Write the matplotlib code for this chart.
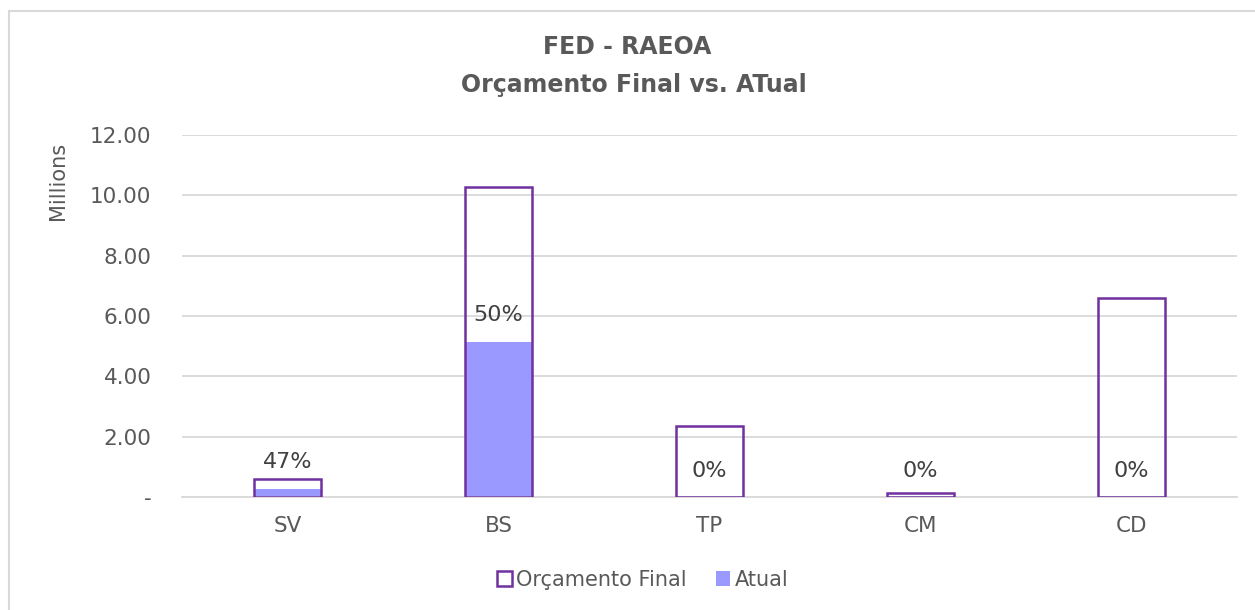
import matplotlib

matplotlib.use("Agg")
import matplotlib.pyplot as plt
from matplotlib.patches import Patch, Rectangle
from matplotlib.ticker import FuncFormatter

# values in millions
categories = ["SV", "BS", "TP", "CM", "CD"]
orcamento_final = [0.60, 10.27, 2.37, 0.15, 6.60]
atual = [0.28, 5.15, 0.0, 0.0, 0.0]
y_ticks = [0, 2, 4, 6, 8, 10, 12]

OUTLINE = "#7030A0"
FILL = "#9999FF"
TEXT = "#595959"
GRID = "#D9D9D9"

plt.rcParams["font.family"] = ["DejaVu Sans"]

fig = plt.figure(figsize=(12.55, 6.10), dpi=100)
ax = fig.add_axes([0.145, 0.1852, 0.8407, 0.5935])

x = list(range(len(categories)))
width = 0.32

ax.bar(x, atual, width=width, color=FILL, edgecolor="none", zorder=2)
ax.bar(x, orcamento_final, width=width, facecolor="none", edgecolor=OUTLINE,
       linewidth=1.8, zorder=3)

for xi, fin, act in zip(x, orcamento_final, atual):
    pct = act / fin if fin else 0
    ax.annotate(f"{pct:.0%}", (xi, act), xytext=(0, 19), textcoords="offset points",
                ha="center", va="center", fontsize=16, color="#404040", zorder=4)

ax.set_xlim(-0.5, len(categories) - 0.5)
ax.set_ylim(0, 12)
ax.set_yticks(y_ticks)
ax.yaxis.set_major_formatter(FuncFormatter(lambda v, _: "-" if v == 0 else f"{v:.2f}"))
ax.set_xticks(x)
ax.set_xticklabels(categories)
ax.tick_params(axis="both", length=0, labelsize=15.5, colors=TEXT)
ax.tick_params(axis="x", pad=14)
ax.tick_params(axis="y", pad=22)
ax.grid(axis="y", color=GRID, linewidth=1.3, zorder=0)
ax.set_axisbelow(True)
for side in ("top", "right", "left"):
    ax.spines[side].set_visible(False)
ax.spines["bottom"].set_color(GRID)
ax.spines["bottom"].set_linewidth(1.3)

# axis unit label sits near the top of the value axis
fig.text(58 / 1255, 1 - 181 / 610, "Millions", rotation=90, ha="center", va="center",
         fontsize=15, color=TEXT)

fig.text(0.5, 1 - 47 / 610, "FED - RAEOA", ha="center", va="center",
         fontsize=17, fontweight="bold", color=TEXT)
fig.text(0.505, 1 - 85 / 610, "Orçamento Final vs. ATual", ha="center", va="center",
         fontsize=17, fontweight="bold", color=TEXT)

handles = [
    Patch(facecolor="white", edgecolor=OUTLINE, linewidth=1.8, label="Orçamento Final"),
    Patch(facecolor=FILL, edgecolor="none", label="Atual"),
]
fig.legend(handles=handles, loc="center", bbox_to_anchor=(0.512, 1 - 580 / 610), ncol=2,
           frameon=False, fontsize=15, labelcolor=TEXT, handlelength=0.7,
           handleheight=0.7, handletextpad=0.2, columnspacing=1.4)

# chart frame, only left and top edges fall inside the image
fig.patches.append(Rectangle((9 / 1255, -0.1), 1.2, 1 - 11 / 610 + 0.1,
                             transform=fig.transFigure, facecolor="none",
                             edgecolor=GRID, linewidth=1.5))

fig.savefig("out.png", dpi=100)
